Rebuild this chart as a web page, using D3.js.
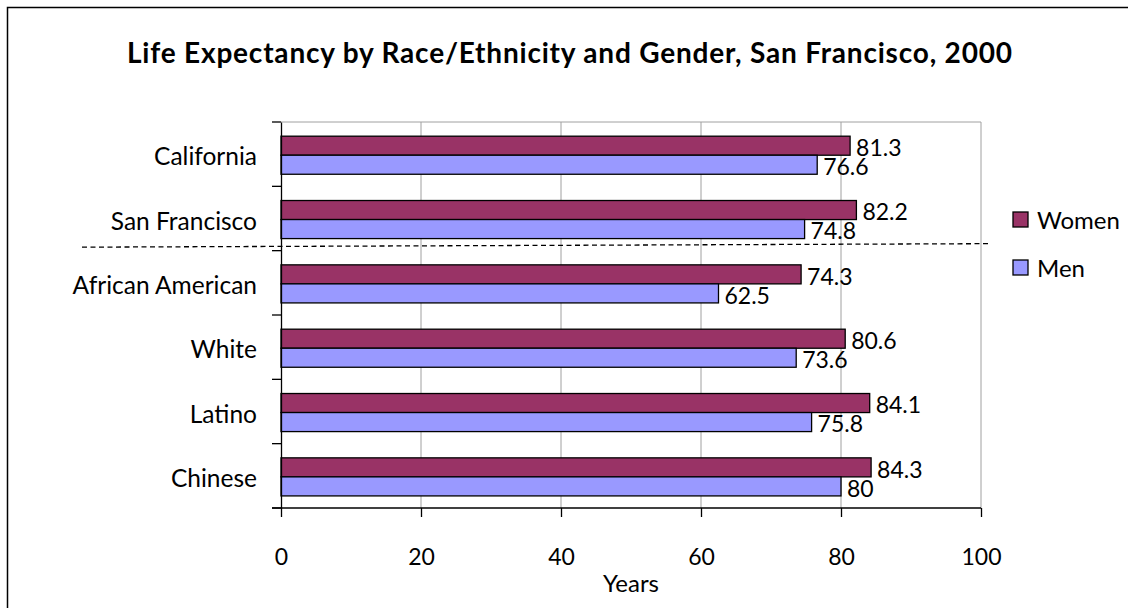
<!DOCTYPE html>
<html>
<head>
<meta charset="utf-8">
<script src="https://cdn.jsdelivr.net/npm/d3@7"></script>
<style>
  body { margin: 0; background: #fff; }
  svg { display: block; font-family: 'Lato', 'Open Sans', sans-serif; }
</style>
</head>
<body>
<svg id="chart" width="1128" height="608"></svg>
<script>
var categories = ['California', 'San Francisco', 'African American', 'White', 'Latino', 'Chinese'];
var women = [81.3, 82.2, 74.3, 80.6, 84.1, 84.3];
var men = [76.6, 74.8, 62.5, 73.6, 75.8, 80];
var seriesNames = ['Women', 'Men'];
var seriesColors = ['#993366', '#9999ff'];
var xTicks = [0, 20, 40, 60, 80, 100];

var svg = d3.select('#chart');
var plot = { left: 281, right: 981, top: 122, bottom: 508 };

// outer frame
svg.append('rect')
  .attr('x', 7.5).attr('y', 7.5)
  .attr('width', 1130).attr('height', 610)
  .attr('fill', 'none').attr('stroke', '#000').attr('stroke-width', 1.5);

var x = d3.scaleLinear().domain([0, 100]).range([plot.left, plot.right]);
var y = d3.scaleBand().domain(categories).range([plot.top, plot.bottom]).padding(0);
var sub = d3.scaleBand().domain(seriesNames).range([0, y.bandwidth()])
  .paddingInner(0).paddingOuter(0.69).align(0.54);

// gridlines + plot frame
svg.append('g').selectAll('line')
  .data(xTicks.slice(1))
  .enter().append('line')
  .attr('x1', function(d) { return x(d); })
  .attr('x2', function(d) { return x(d); })
  .attr('y1', plot.top).attr('y2', plot.bottom)
  .attr('stroke', '#a0a0a0').attr('stroke-width', 1);
svg.append('line')
  .attr('x1', plot.left).attr('x2', plot.right)
  .attr('y1', plot.top).attr('y2', plot.top)
  .attr('stroke', '#a0a0a0').attr('stroke-width', 1);

// bars
var rows = categories.map(function(c, i) {
  return { cat: c, values: [women[i], men[i]] };
});
var groups = svg.append('g').selectAll('g')
  .data(rows)
  .enter().append('g')
  .attr('transform', function(d) { return 'translate(0,' + y(d.cat) + ')'; });

groups.selectAll('rect')
  .data(function(d) { return d.values.map(function(v, j) { return { name: seriesNames[j], v: v, j: j }; }); })
  .enter().append('rect')
  .attr('x', x(0))
  .attr('y', function(d) { return sub(d.name); })
  .attr('width', function(d) { return x(d.v) - x(0); })
  .attr('height', sub.bandwidth())
  .attr('fill', function(d) { return seriesColors[d.j]; })
  .attr('stroke', '#000').attr('stroke-width', 1.3);

groups.selectAll('text')
  .data(function(d) { return d.values.map(function(v, j) { return { name: seriesNames[j], v: v }; }); })
  .enter().append('text')
  .attr('x', function(d) { return x(d.v) + 6; })
  .attr('y', function(d) { return sub(d.name) + sub.bandwidth() / 2; })
  .attr('dy', '0.45em')
  .attr('font-size', 23)
  .text(function(d) { return d.v; });

// x axis
var xAxis = svg.append('g')
  .attr('transform', 'translate(0,' + plot.bottom + ')')
  .call(d3.axisBottom(x).tickValues(xTicks).tickSize(9).tickPadding(32).tickFormat(d3.format('d')));
xAxis.select('.domain').remove();
xAxis.append('line')
  .attr('x1', plot.left - 9).attr('x2', plot.right)
  .attr('stroke', '#000').attr('stroke-width', 1.3);
xAxis.selectAll('.tick line').attr('stroke', '#000').attr('stroke-width', 1.3);
xAxis.selectAll('.tick text').attr('font-size', 23).attr('fill', '#000')
  .style('font-family', 'Lato, sans-serif');

svg.append('text')
  .attr('x', x(50)).attr('y', 592)
  .attr('text-anchor', 'middle').attr('font-size', 24)
  .text('Years');

// y axis
var yAxis = svg.append('g')
  .attr('transform', 'translate(' + plot.left + ',0)')
  .call(d3.axisLeft(y).tickSize(0).tickPadding(24));
yAxis.select('.domain').attr('stroke', '#000').attr('stroke-width', 1.3);
yAxis.selectAll('.tick text').attr('font-size', 24.5).attr('fill', '#000')
  .attr('dy', '0.45em')
  .style('font-family', 'Lato, sans-serif');

var bounds = categories.map(function(c) { return y(c); }).concat([plot.bottom]);
svg.append('g').selectAll('line')
  .data(bounds)
  .enter().append('line')
  .attr('x1', plot.left - 9).attr('x2', plot.left)
  .attr('y1', function(d) { return d; }).attr('y2', function(d) { return d; })
  .attr('stroke', '#000').attr('stroke-width', 1.3);

// dashed separator between city totals and groups
var sepY = y(categories[2]) - 5;
svg.append('line')
  .attr('x1', 82).attr('x2', 988)
  .attr('y1', sepY + 1.5).attr('y2', sepY - 2)
  .attr('stroke', '#000').attr('stroke-width', 1.3)
  .attr('stroke-dasharray', '5,3.5');

// title
svg.append('text')
  .attr('x', 569.5).attr('y', 63)
  .attr('text-anchor', 'middle')
  .attr('font-size', 28).attr('font-weight', 'bold')
  .attr('textLength', 885).attr('lengthAdjust', 'spacing')
  .text('Life Expectancy by Race/Ethnicity and Gender, San Francisco, 2000');

// legend
var legend = svg.append('g').selectAll('g')
  .data(seriesNames)
  .enter().append('g')
  .attr('transform', function(d, i) { return 'translate(1013,' + (212 + i * 48) + ')'; });
legend.append('rect')
  .attr('width', 15).attr('height', 15)
  .attr('fill', function(d, i) { return seriesColors[i]; })
  .attr('stroke', '#000').attr('stroke-width', 1.3);
legend.append('text')
  .attr('x', 24).attr('y', 7.5).attr('dy', '0.4em')
  .attr('font-size', 24)
  .text(function(d) { return d; });
</script>
</body>
</html>
